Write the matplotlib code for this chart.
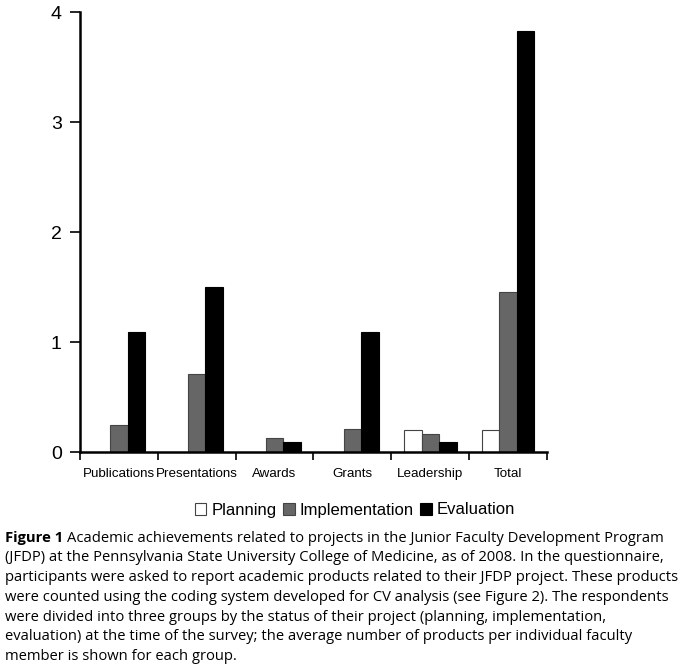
import numpy as np
import matplotlib
matplotlib.use("Agg")
import matplotlib.pyplot as plt
from matplotlib.patches import Patch

categories = ["Publications", "Presentations", "Awards", "Grants", "Leadership", "Total"]
planning = [0, 0, 0, 0, 0.20, 0.20]
implementation = [0.25, 0.71, 0.13, 0.21, 0.17, 1.46]
evaluation = [1.09, 1.50, 0.09, 1.09, 0.09, 3.83]
series_names = ["Planning", "Implementation", "Evaluation"]

caption_lines = [
    "Academic achievements related to projects in the Junior Faculty Development Program",
    "(JFDP) at the Pennsylvania State University College of Medicine, as of 2008. In the questionnaire,",
    "participants were asked to report academic products related to their JFDP project. These products",
    "were counted using the coding system developed for CV analysis (see Figure 2). The respondents",
    "were divided into three groups by the status of their project (planning, implementation,",
    "evaluation) at the time of the survey; the average number of products per individual faculty",
    "member is shown for each group.",
]

plt.rcParams["font.family"] = ["Liberation Sans", "DejaVu Sans"]

fig = plt.figure(figsize=(6.83, 6.70), dpi=100)
ax = fig.add_axes([0.117, 0.325, 0.684, 0.6565])

x = np.arange(len(categories))
w = 0.225
styles = [("white", "#444444"), ("#666666", "#444444"), ("black", "black")]
for i, (vals, (fc, ec)) in enumerate(zip([planning, implementation, evaluation], styles)):
    v = np.array(vals, dtype=float)
    mask = v > 0
    ax.bar(x[mask] + (i - 1) * w, v[mask], w, color=fc, edgecolor=ec, linewidth=0.8)

ax.set_xlim(-0.5, len(categories) - 0.5)
ax.set_ylim(0, 4)
ax.set_yticks([0, 1, 2, 3, 4])
ax.tick_params(axis="y", labelsize=14, length=7, width=1.2, pad=6)
ax.set_xticks(np.arange(len(categories) + 1) - 0.5)
ax.set_xticklabels([])
ax.tick_params(axis="x", which="major", length=6, width=1.2)
ax.set_xticks(x, minor=True)
ax.set_xticklabels(categories, minor=True, fontsize=9.6)
ax.tick_params(axis="x", which="minor", length=0, pad=11)
for s in ["top", "right"]:
    ax.spines[s].set_visible(False)
ax.spines["left"].set_linewidth(1.8)
ax.spines["bottom"].set_linewidth(1.8)

handles = [Patch(facecolor=fc, edgecolor=ec, linewidth=0.8) for fc, ec in styles]
fig.legend(handles, series_names, loc="center", bbox_to_anchor=(355 / 683, 1 - 510 / 670),
           ncol=3, frameon=False, fontsize=12, handlelength=0.7, handleheight=0.7,
           handletextpad=0.3, columnspacing=0.4)

# caption
cap_font = ["Open Sans", "DejaVu Sans"]
cap_size = 10.65
y0 = 1 - 538 / 670
dy = 19.8 / 670
t = fig.text(5 / 683, y0, "Figure 1", fontsize=cap_size, fontweight="bold", family=cap_font, va="center")
fig.canvas.draw()
bb = t.get_window_extent(fig.canvas.get_renderer())
fig.text(bb.x1 / fig.bbox.width + 4 / 683, y0, caption_lines[0], fontsize=cap_size, family=cap_font, va="center")
for k, line in enumerate(caption_lines[1:], start=1):
    fig.text(5 / 683, y0 - k * dy, line, fontsize=cap_size, family=cap_font, va="center")

fig.savefig("out.png", dpi=100)
